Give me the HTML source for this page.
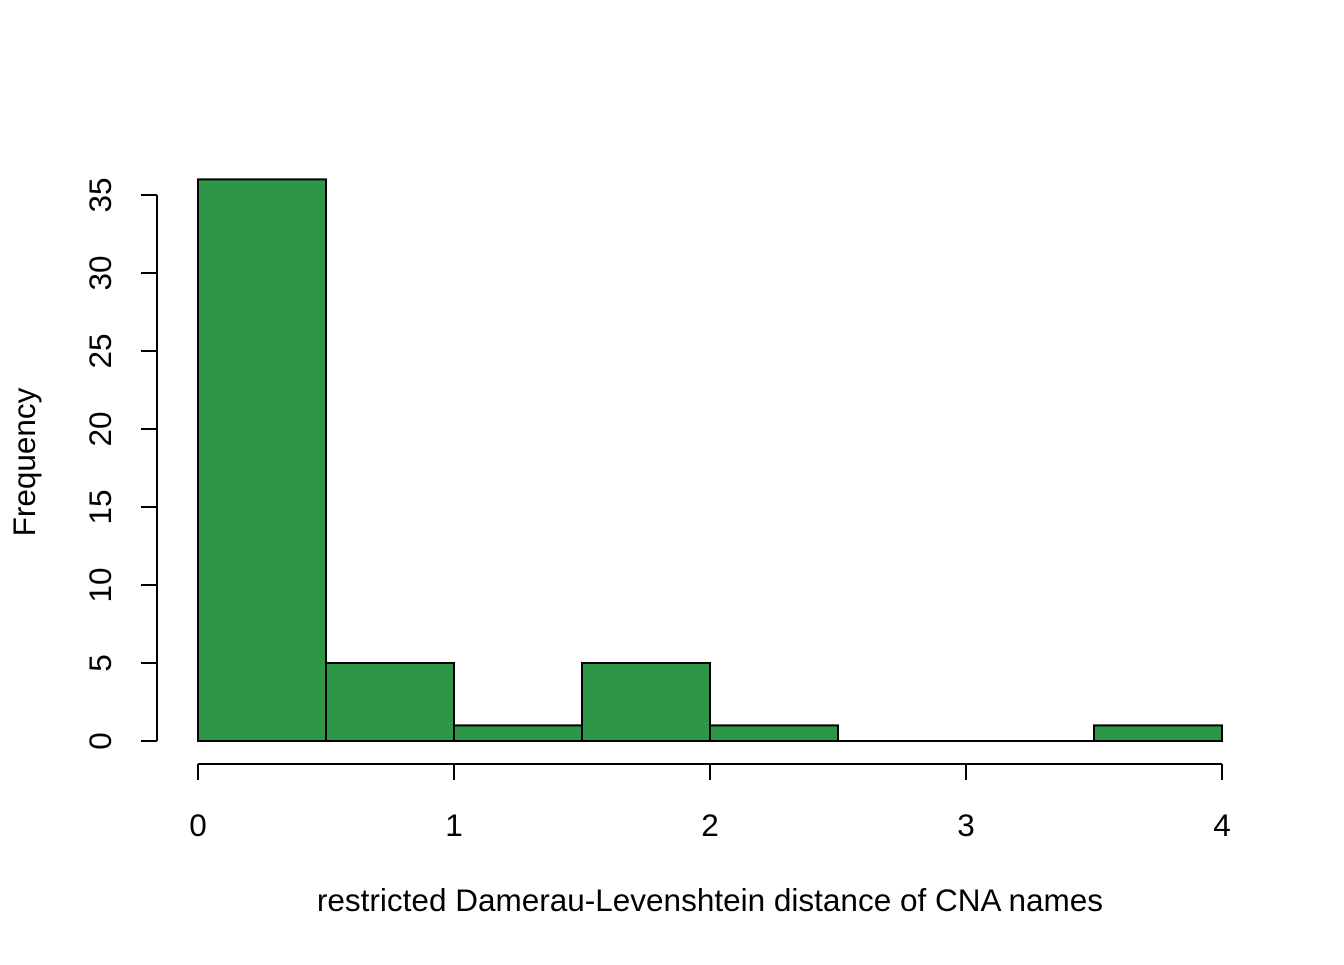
<!DOCTYPE html>
<html><head><meta charset="utf-8"><style>
html,body{margin:0;padding:0;background:#fff;}
svg text{font-family:"Liberation Sans",Arial,sans-serif;fill:#000;}
</style></head><body>
<svg id="chart" width="1344" height="960" xmlns="http://www.w3.org/2000/svg">
<g id="bars"></g>
<g id="xaxis"></g>
<g id="yaxis"></g>
<text x="710" y="911" font-size="31.5" text-anchor="middle">restricted Damerau-Levenshtein distance of CNA names</text>
<text transform="translate(35,462) rotate(-90)" font-size="31.5" text-anchor="middle">Frequency</text>
</svg>
<script>
const binEdges = [0,0.5,1,1.5,2,2.5,3,3.5,4];
const counts = [36,5,1,5,1,0,0,1];
const xTicks = [0,1,2,3,4];
const yTicks = [0,5,10,15,20,25,30,35];
const NS = "http://www.w3.org/2000/svg";
const xs = v => 198 + v * 256;
const ys = v => 741 - v * 15.6;
function mk(tag, attrs, parent){const e=document.createElementNS(NS,tag);for(const k in attrs)e.setAttribute(k,attrs[k]);parent.appendChild(e);return e;}
const bars=document.getElementById('bars');
counts.forEach((c,i)=>{
  const x0=xs(binEdges[i]), x1=xs(binEdges[i+1]), y0=ys(0), y1=ys(c);
  const r=mk('path',{d:`M${x0},${y0}L${x0},${y1}L${x1},${y1}L${x1},${y0}Z`,fill:'#2E9647',stroke:'#000','stroke-width':2},bars);
  
  
});
const xa=document.getElementById('xaxis');
mk('line',{x1:xs(xTicks[0]),x2:xs(xTicks[xTicks.length-1]),y1:764,y2:764,stroke:'#000','stroke-width':2},xa);
xTicks.forEach(t=>{
  mk('line',{x1:xs(t),x2:xs(t),y1:764,y2:780,stroke:'#000','stroke-width':2},xa);
  const tx=mk('text',{x:xs(t),y:836,'font-size':31.5,'text-anchor':'middle'},xa);
  tx.textContent=t;
  
  
});
const ya=document.getElementById('yaxis');
mk('line',{x1:157,x2:157,y1:ys(yTicks[0]),y2:ys(yTicks[yTicks.length-1]),stroke:'#000','stroke-width':2},ya);
yTicks.forEach(t=>{
  mk('line',{x1:141,x2:157,y1:ys(t),y2:ys(t),stroke:'#000','stroke-width':2},ya);
  const tx=mk('text',{transform:`translate(111,${ys(t)}) rotate(-90)`,'font-size':31.5,'text-anchor':'middle'},ya);
  tx.textContent=t;
  
  
});
</script>
</body></html>
